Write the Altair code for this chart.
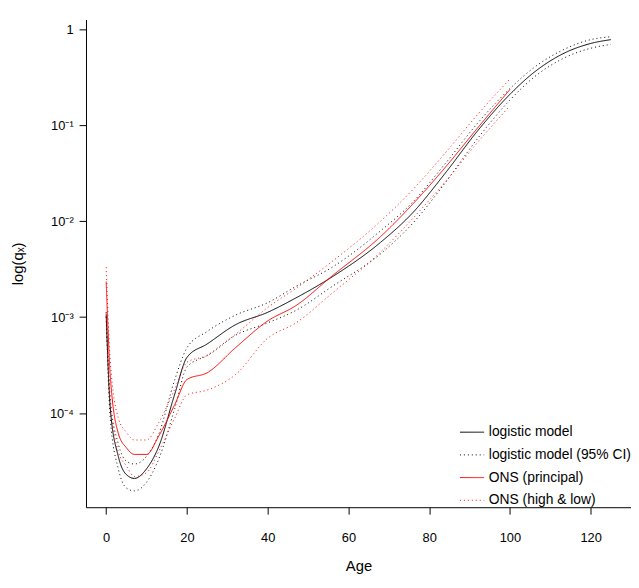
import altair as alt
import pandas as pd

ages = [0, 1, 3, 5, 7, 10, 13, 17, 20, 25, 32, 40, 47, 56, 68, 76, 84, 92, 100, 106, 113, 120, 125]
# log10(qx)
logit_mid = [-2.97, -3.94, -4.45, -4.64, -4.68, -4.58, -4.35, -3.80, -3.42, -3.28, -3.08, -2.95, -2.80,
             -2.58, -2.22, -1.91, -1.50, -1.06, -0.68, -0.45, -0.26, -0.15, -0.11]
logit_hi = [-2.95, -3.85, -4.32, -4.50, -4.53, -4.45, -4.22, -3.65, -3.32, -3.15, -2.98, -2.85, -2.68,
            -2.48, -2.10, -1.80, -1.40, -0.98, -0.62, -0.40, -0.22, -0.11, -0.08]
logit_lo = [-3.00, -4.05, -4.58, -4.78, -4.81, -4.72, -4.48, -3.95, -3.52, -3.40, -3.19, -3.06, -2.93,
            -2.68, -2.34, -2.02, -1.60, -1.14, -0.74, -0.50, -0.31, -0.20, -0.16]
ons_ages = ages[:19]
ons_mid = [-2.63, -3.60, -4.21, -4.36, -4.43, -4.43, -4.24, -3.91, -3.65, -3.58, -3.32, -3.04, -2.88,
           -2.57, -2.16, -1.82, -1.44, -1.03, -0.63]
ons_hi = [-2.48, -3.45, -4.05, -4.20, -4.28, -4.28, -4.10, -3.75, -3.47, -3.40, -3.18, -2.90, -2.70,
          -2.42, -2.00, -1.67, -1.29, -0.89, -0.52]
ons_lo = [-2.95, -3.85, -4.40, -4.55, -4.66, -4.62, -4.40, -4.05, -3.81, -3.76, -3.60, -3.22, -3.06,
          -2.75, -2.32, -1.97, -1.59, -1.18, -0.80]

series = ["logistic model", "logistic model (95% CI)", "ONS (principal)", "ONS (high & low)"]

rows = []
for name, line, xs, ys in [
    (series[0], "a", ages, logit_mid),
    (series[1], "b", ages, logit_hi),
    (series[1], "c", ages, logit_lo),
    (series[2], "d", ons_ages, ons_mid),
    (series[3], "e", ons_ages, ons_hi),
    (series[3], "f", ons_ages, ons_lo),
]:
    for a, v in zip(xs, ys):
        rows.append({"age": a, "qx": 10 ** v, "series": name, "line": line})
df = pd.DataFrame(rows)

font = "Liberation Sans"
ylabels = "datum.value >= 0.99 ? '1' : datum.value >= 0.099 ? '10⁻¹' : datum.value >= 0.0099 ? '10⁻²' : datum.value >= 0.00099 ? '10⁻³' : '10⁻⁴'"
leg = alt.Legend(title=None, orient="bottom-right", symbolType="stroke", symbolStrokeWidth=1,
                 symbolSize=600, labelFontSize=14, labelFont=font, rowPadding=3, offset=0,
                 labelColor="black")

chart = alt.Chart(df).mark_line(strokeWidth=1, interpolate="monotone").encode(
    x=alt.X("age:Q", title="Age", scale=alt.Scale(domain=[-5, 130], nice=False),
            axis=alt.Axis(values=[0, 20, 40, 60, 80, 100, 120], grid=False, tickSize=7,
                          labelPadding=18, titlePadding=14)),
    y=alt.Y("qx:Q", title="log(qₓ)",
            scale=alt.Scale(type="log", domain=[10 ** -4.98, 10 ** 0.1], nice=False),
            axis=alt.Axis(values=[1, 0.1, 0.01, 0.001, 0.0001], labelExpr=ylabels, grid=False,
                          tickSize=7, labelPadding=6, titlePadding=24)),
    color=alt.Color("series:N", scale=alt.Scale(domain=series, range=["black", "black", "red", "red"]),
                    legend=leg),
    strokeDash=alt.StrokeDash("series:N", scale=alt.Scale(domain=series, range=[[1, 0], [1, 3], [1, 0], [1, 3]]),
                              legend=leg),
    detail="line:N",
).properties(
    width=552, height=494, autosize=alt.AutoSizeParams(type="none"),
    padding={"left": 79, "top": 8, "right": 0, "bottom": 64},
).configure_view(stroke=None).configure_axis(
    labelFont=font, titleFont=font, labelFontSize=13, titleFontSize=15, titleFontWeight="normal",
    domainColor="black", tickColor="black", labelColor="black", titleColor="black",
)

chart.save("out.html", embed_options={"renderer": "svg", "actions": False})
